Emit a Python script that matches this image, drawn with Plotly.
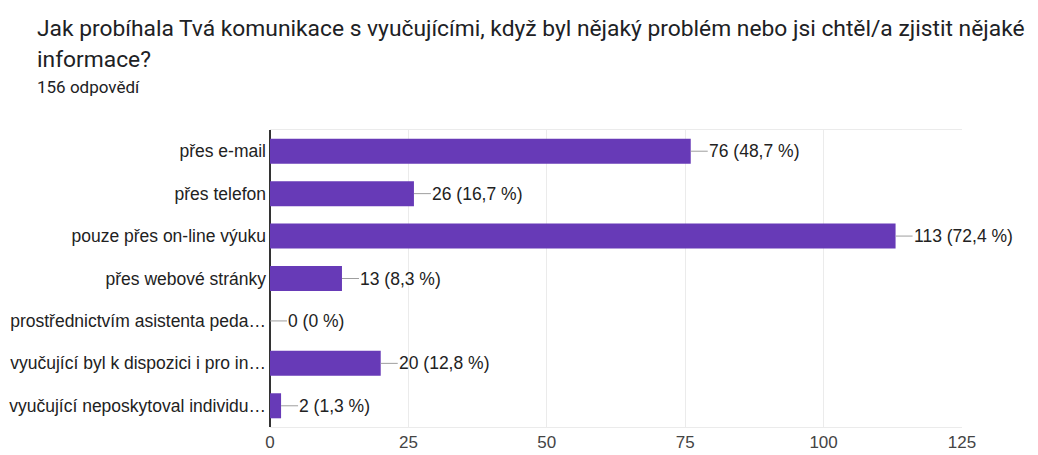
import plotly.graph_objects as go

categories = [
    "přes e-mail",
    "přes telefon",
    "pouze přes on-line výuku",
    "přes webové stránky",
    "prostřednictvím asistenta peda…",
    "vyučující byl k dispozici i pro in…",
    "vyučující neposkytoval individu…",
]
counts = [76, 26, 113, 13, 0, 20, 2]
percent_labels = ["48,7 %", "16,7 %", "72,4 %", "8,3 %", "0 %", "12,8 %", "1,3 %"]
x_ticks = [0, 25, 50, 75, 100, 125]

title_line1 = "Jak probíhala Tvá komunikace s vyučujícími, když byl nějaký problém nebo jsi chtěl/a zjistit nějaké"
title_line2 = "informace?"
subtitle = "156 odpovědí"

BAR = "#673ab7"
TFONT = "Roboto, Arial, sans-serif"
FONT = "Liberation Sans, Arial, sans-serif"

W, H = 1038, 455
ML, MR, MT, MB = 270, 76, 130, 28
pw, ph = W - ML - MR, H - MT - MB

fig = go.Figure()
fig.add_trace(go.Bar(
    x=counts, y=categories, orientation="h",
    marker=dict(color=BAR, line=dict(width=0)),
    hoverinfo="skip",
))

shapes = []
annotations = []
for c, cat, p in zip(counts, categories, percent_labels):
    shapes.append(dict(
        type="line", xref="x", yref="y", xsizemode="pixel",
        xanchor=c, x0=0, x1=17, y0=cat, y1=cat,
        line=dict(color="#9e9e9e", width=1),
    ))
    annotations.append(dict(
        x=c, y=cat, xref="x", yref="y", text=f"{c} ({p})",
        showarrow=False, xanchor="left", yanchor="middle", xshift=16,
        font=dict(family=FONT, size=17.5, color="#222222"),
    ))


def px_ann(x, y, text, size):
    return dict(x=(x - ML) / pw, y=1 - (y - MT) / ph, xref="paper", yref="paper",
                text=text, showarrow=False, xanchor="left", yanchor="middle",
                font=dict(family=TFONT, size=size, color="#202124"))


annotations += [
    px_ann(35, 28, title_line1, 22.8),
    px_ann(35, 60, title_line2, 22.8),
    px_ann(35, 87, subtitle, 17),
]

fig.update_layout(
    width=W, height=H,
    margin=dict(l=ML, r=MR, t=MT, b=MB, autoexpand=False),
    plot_bgcolor="white", paper_bgcolor="white",
    showlegend=False,
    bargap=0.41,
    shapes=shapes,
    annotations=annotations,
    font=dict(family=FONT, size=17, color="#222222"),
)
fig.update_xaxes(
    range=[0, 125], tickvals=x_ticks, ticktext=[str(t) for t in x_ticks],
    showgrid=True, gridcolor="#ebebeb", gridwidth=1,
    zeroline=True, zerolinecolor="#333333", zerolinewidth=1.5,
    showline=True, linecolor="#ebebeb", linewidth=1, mirror=True,
    ticks="", tickfont=dict(family=FONT, size=17, color="#444444"),
    automargin=False, fixedrange=True,
)
fig.update_yaxes(
    autorange="reversed", categoryorder="array", categoryarray=categories,
    showgrid=False, zeroline=False, showline=False, ticks="",
    ticklabelstandoff=3, automargin=False,
    tickfont=dict(family=FONT, size=17.5, color="#222222"),
    fixedrange=True,
)

fig.write_html(
    "out.html",
    config={"displayModeBar": False},
    post_script="document.body.style.margin='0';document.body.style.overflow='hidden';",
)
